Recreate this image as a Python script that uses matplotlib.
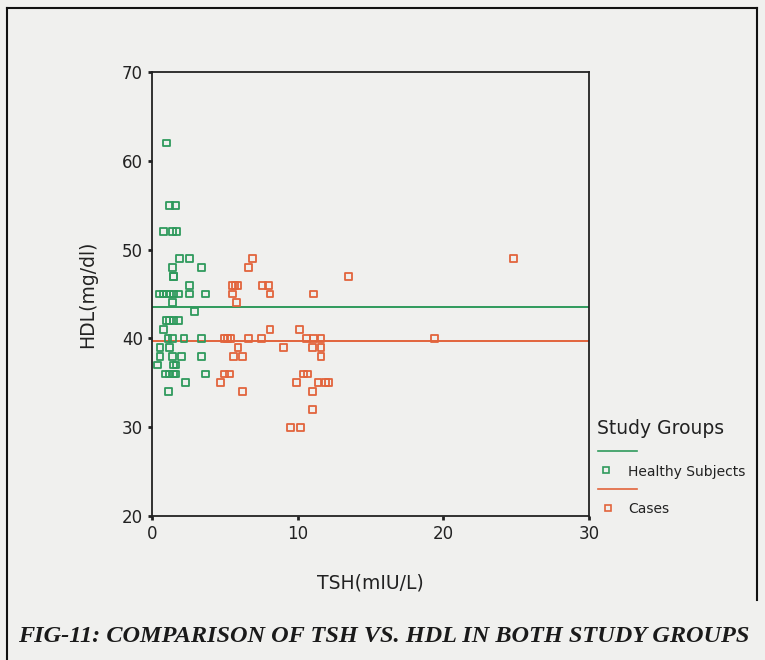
import matplotlib
matplotlib.use("Agg")
import matplotlib.pyplot as plt
from matplotlib.lines import Line2D

# Healthy Subjects: (TSH, HDL)
healthy_tsh = [1.0, 1.2, 1.6, 0.8, 1.4, 1.7, 1.9, 2.6, 1.4, 3.4, 1.5, 1.5, 2.6,
               0.5, 0.8, 1.0, 1.2, 1.5, 1.8, 2.6, 3.7, 1.4, 2.9,
               1.0, 1.2, 1.5, 1.8, 0.8, 1.1, 1.4, 2.2, 3.4, 0.55, 1.2,
               0.55, 1.4, 2.0, 3.4, 0.4, 1.45, 1.65,
               0.95, 1.2, 1.45, 1.6, 3.7, 2.3, 1.15]
healthy_hdl = [62, 55, 55, 52, 52, 52, 49, 49, 48, 48, 47, 47, 46,
               45, 45, 45, 45, 45, 45, 45, 45, 44, 43,
               42, 42, 42, 42, 41, 40, 40, 40, 40, 39, 39,
               38, 38, 38, 38, 37, 37, 37,
               36, 36, 36, 36, 36, 35, 34]

# Cases: (TSH, HDL)
cases_tsh = [6.9, 24.8, 6.6, 13.5, 5.5, 5.7, 5.9, 7.6, 8.0, 5.5, 8.1, 11.1, 5.8,
             8.1, 10.1, 5.0, 5.2, 5.4, 6.6, 7.5, 10.6, 11.1, 11.6, 19.4,
             5.9, 9.0, 11.0, 11.6, 5.6, 6.2, 11.6, 5.0, 5.3, 10.4, 10.7,
             4.7, 9.9, 11.4, 11.9, 12.1, 6.2, 11.0, 11.0, 9.5, 10.2]
cases_hdl = [49, 49, 48, 47, 46, 46, 46, 46, 46, 45, 45, 45, 44,
             41, 41, 40, 40, 40, 40, 40, 40, 40, 40, 40,
             39, 39, 39, 39, 38, 38, 38, 36, 36, 36, 36,
             35, 35, 35, 35, 35, 34, 34, 32, 30, 30]

# Fit lines (level)
fit_healthy = 43.5
fit_cases = 39.7

x_ticks = [0, 10, 20, 30]
y_ticks = [20, 30, 40, 50, 60, 70]

GREEN = "#2f9a5c"
ORANGE = "#e2643c"
BG = "#f0f0ee"

fig = plt.figure(figsize=(7.65, 6.6), dpi=100, facecolor=BG)
ax = fig.add_axes([152/765, 1-516/660, (589-152)/765, (516-72)/660])
ax.set_facecolor(BG)

ax.scatter(healthy_tsh, healthy_hdl, marker="s", s=24, facecolors="none",
           edgecolors=GREEN, linewidths=1.3, zorder=3)
ax.scatter(cases_tsh, cases_hdl, marker="s", s=24, facecolors="none",
           edgecolors=ORANGE, linewidths=1.3, zorder=3)
ax.axhline(fit_healthy, color=GREEN, lw=1.4, zorder=2)
ax.axhline(fit_cases, color=ORANGE, lw=1.4, zorder=2)

ax.set_xlim(0, 30)
ax.set_ylim(20, 70)
ax.set_xticks(x_ticks)
ax.set_yticks(y_ticks)
ax.tick_params(direction="out", length=3, width=2, labelsize=12, colors="#222222")
for sp in ax.spines.values():
    sp.set_linewidth(1.3)
    sp.set_color("#222222")

ax.set_xlabel("TSH(mIU/L)", fontsize=13.5, labelpad=22, color="#222222")
ax.set_ylabel("HDL(mg/dl)", fontsize=13.5, labelpad=18, color="#222222")

# Legend (drawn manually outside the plot)
fig.text(597/765, 1-428/660, "Study Groups", fontsize=13.5, color="#222222", va="center")
fig.add_artist(Line2D([598/765, 637/765], [1-451/660]*2, color=GREEN, lw=1.2))
fig.add_artist(Line2D([606/765], [1-470/660], marker="s", ms=5, mfc="none",
                      mec=GREEN, mew=1.2, ls="none"))
fig.text(628/765, 1-472/660, "Healthy Subjects", fontsize=10, color="#222222", va="center")
fig.add_artist(Line2D([598/765, 637/765], [1-489/660]*2, color=ORANGE, lw=1.2))
fig.add_artist(Line2D([608/765], [1-508/660], marker="s", ms=5, mfc="none",
                      mec=ORANGE, mew=1.2, ls="none"))
fig.text(628/765, 1-509/660, "Cases", fontsize=10, color="#222222", va="center")

# Caption
fig.text(18/765, 1-636/660, "FIG-11: COMPARISON OF TSH VS. HDL IN BOTH STUDY GROUPS",
         fontsize=17.5, fontweight="bold", fontstyle="italic", family="Liberation Serif",
         color="#1a1a1a", va="center")

# Page border
fig.add_artist(Line2D([7/765, 7/765], [0, 1-8/660], color="#111111", lw=1.5))
fig.add_artist(Line2D([7/765, 757/765], [1-8/660]*2, color="#111111", lw=1.5))
fig.add_artist(Line2D([757/765, 757/765], [1-8/660, 1-600/660], color="#111111", lw=1.5))

fig.savefig("out.png", dpi=100, facecolor=BG)
